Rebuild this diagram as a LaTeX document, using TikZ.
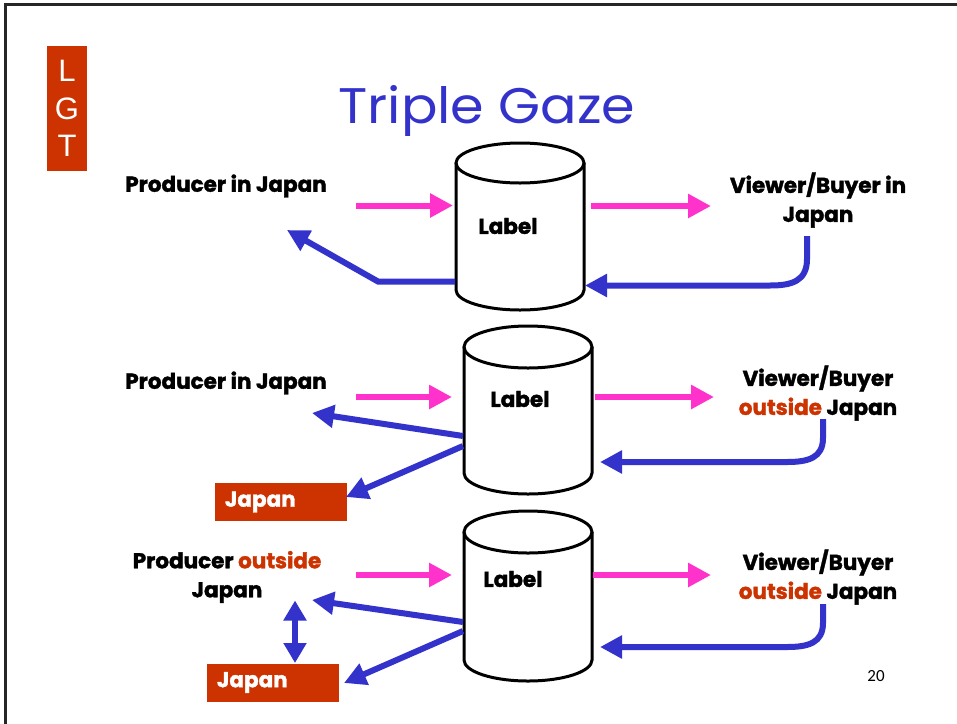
\documentclass[tikz,border=0pt]{standalone}
\usepackage{fontspec}
\setmainfont{Poppins}
\newfontfamily\heavy{Poppins}[BoldFeatures={FakeBold=1.6}]
\newfontfamily\lgtfont{Liberation Sans}
\newfontfamily\numfont{Carlito}
\usetikzlibrary{arrows.meta}
\definecolor{brick}{HTML}{CC3300}
\definecolor{pinkc}{HTML}{FF33CC}
\definecolor{bluec}{HTML}{3333CC}
\newcommand\drawcyl[5]{% name, cx, ytop, ybot, ry
  \node[cylbox, minimum height={#4-#3}] (#1) at (#2,{(#3+#4)/2}) {};
  \draw[cylline] (#1.north west) -- (#1.south west)
     arc[start angle=180, end angle=360, x radius=64pt, y radius=#5 pt] -- (#1.north east);
  \draw[cylline] (#1.north) ellipse[x radius=64pt, y radius=#5 pt];
}
\begin{document}
\begin{tikzpicture}[x=1pt,y=-1pt,
  txt/.style={font=\heavy\bfseries\fontsize{21.5}{29}\selectfont, align=center, inner sep=0pt, text=black},
  jbox/.style={fill=brick, text=white, font=\heavy\bfseries\fontsize{21.5}{24}\selectfont,
     text width=112pt, inner xsep=10pt, inner ysep=0pt, minimum height=38pt, align=left},
  cylbox/.style={draw=none, inner sep=0pt, outer sep=0pt, minimum width=128pt},
  cylline/.style={draw=black, line width=3pt},
  pinkarrow/.style={draw=pinkc, line width=6pt, -{Triangle[length=23pt,width=23pt]}},
  bluearrow/.style={draw=bluec, line width=6pt, -{Triangle[length=22pt,width=22pt]}},
  lbl/.style={font=\heavy\bfseries\fontsize{21.5}{24}\selectfont, inner sep=0pt}
]
\useasboundingbox (0,0) rectangle (957,723);
\fill[white] (0,0) rectangle (957,723);
% frame
\draw[line width=2.5pt, black!85] (5.5,724) -- (5.5,4.5) -- (958,4.5);

% LGT tag
\node[fill=brick, minimum width=40pt, minimum height=125pt, inner sep=0pt] (lgt) at (67,108.5) {};
\node[text=white, font=\lgtfont\fontsize{31}{37.5}\selectfont, align=center, inner sep=0pt] (lgttxt) at (67,108.5) {L\\G\\T};

% title
\node[text=bluec, font=\fontsize{50}{55}\selectfont, inner sep=0pt, anchor=base, xscale=1.08] (title) at (487,123) {Triple Gaze};

% cylinders
\drawcyl{cylA}{520}{163}{290}{20}
\drawcyl{cylB}{528}{347}{473}{21}
\drawcyl{cylC}{528}{532}{660}{21}

\node[lbl] (labA) at (508,226) {Label};
\node[lbl] (labB) at (520,399) {Label};
\node[lbl] (labC) at (513,579) {Label};

% texts row 1
\node[txt] (prodA) at (226,186) {Producer in Japan};
\node[txt] (viewA) at (818,200) {Viewer/Buyer in\\Japan};
% row 2
\node[txt] (prodB) at (226,383) {Producer in Japan};
\node[txt] (viewB) at (818,393) {Viewer/Buyer\\\textcolor{brick}{outside} Japan};
\node[jbox] (jpB) at (281,502) {Japan};
% row 3
\node[txt] (prodC) at (227,577) {Producer \textcolor{brick}{outside}\\Japan};
\node[txt] (viewC) at (818,577) {Viewer/Buyer\\\textcolor{brick}{outside} Japan};
\node[jbox] (jpC) at (273,682.5) {Japan};

\node[font=\numfont\fontsize{17}{20}\selectfont, inner sep=0pt] (pnum) at (876,676) {20};

% coordinates for connector ends
\coordinate (pAs) at (356,205.5);  \coordinate (pAe) at (453,205.5);
\coordinate (pAs2) at (591,206);   \coordinate (pAe2) at (711,206);
\coordinate (pBs) at (356,397);    \coordinate (pBe) at (452,397);
\coordinate (pBs2) at (595,397);   \coordinate (pBe2) at (714,397);
\coordinate (pCs) at (356,575);    \coordinate (pCe) at (452,575);
\coordinate (pCs2) at (593,575);   \coordinate (pCe2) at (711,575);

\coordinate (bAl) at (455,281.5); \coordinate (bAk) at (378,281.5); \coordinate (bAt) at (287,230);
\coordinate (bAr) at (807,236);   \coordinate (bArt) at (585,285.5);
\coordinate (bBl1) at (463,436);  \coordinate (bBt1) at (312,413);
\coordinate (bBl2) at (463,446);  \coordinate (bBt2) at (346,497);
\coordinate (bBr) at (823,419);   \coordinate (bBrt) at (600,462);
\coordinate (bCl1) at (463,622);  \coordinate (bCt1) at (312,600);
\coordinate (bCl2) at (463,631);  \coordinate (bCt2) at (344,683);
\coordinate (bCr) at (823,604);   \coordinate (bCrt) at (600,647);
\coordinate (dTop) at (295,600.5); \coordinate (dBot) at (295,663);

% pink arrows
\draw[pinkarrow] (pAs) -- (pAe);
\draw[pinkarrow] (pAs2) -- (pAe2);
\draw[pinkarrow] (pBs) -- (pBe);
\draw[pinkarrow] (pBs2) -- (pBe2);
\draw[pinkarrow] (pCs) -- (pCe);
\draw[pinkarrow] (pCs2) -- (pCe2);

% blue arrows
\draw[bluearrow, line join=miter] (bAl) -- (bAk) -- (bAt);
\draw[bluearrow] (bAr) -- (807,259) .. controls (807,281) and (792,285.5) .. (770,285.5) -- (bArt);
\draw[bluearrow] (bBl1) -- (bBt1);
\draw[bluearrow] (bBl2) -- (bBt2);
\draw[bluearrow] (bBr) -- (823,438) .. controls (823,458) and (808,462) .. (787,462) -- (bBrt);
\draw[bluearrow] (bCl1) -- (bCt1);
\draw[bluearrow] (bCl2) -- (bCt2);
\draw[bluearrow] (bCr) -- (823,623) .. controls (823,643) and (808,647) .. (787,647) -- (bCrt);
\draw[bluearrow, {Triangle[length=20pt,width=22pt]}-{Triangle[length=20pt,width=22pt]}] (dTop) -- (dBot);
\end{tikzpicture}
\end{document}
